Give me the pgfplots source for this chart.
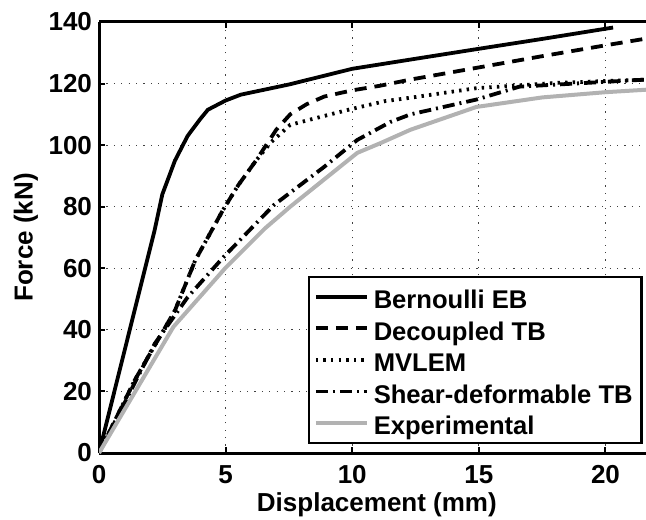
\documentclass[border=0pt]{standalone}
\usepackage{fontspec}
\setmainfont{Liberation Sans}
\usepackage{pgfplots}
\pgfplotsset{compat=1.18}
\begin{document}
\begin{tikzpicture}
\begin{axis}[
  scale only axis, width=273.5pt, height=215.5pt,
  xmin=0, xmax=21.6, ymin=0, ymax=140,
  xtick={0,5,10,15,20}, ytick={0,20,40,60,80,100,120,140},
  axis x line*=box, axis y line*=left,
  axis line style={line width=1.5pt},
  tick align=inside, major tick length=3pt,
  every tick/.style={black, line width=1pt},
  grid=major,
  major grid style={black!75, line width=0.6pt, dash pattern=on 0.6pt off 3.1pt},
  /pgf/number format/assume math mode=true,
  tick label style={font=\bfseries\fontsize{13}{15}\selectfont},
  x tick label style={anchor=base, yshift=-15.4pt, inner sep=0pt},
  label style={font=\bfseries\fontsize{13}{15}\selectfont},
  xlabel={Displacement (mm)}, ylabel={Force (kN)},
  xlabel style={at={(axis description cs:0.508,-0.1363)}, anchor=base},
  ylabel style={at={(axis description cs:-0.1214,0.5)}, anchor=base},
  legend cell align=left,
  legend image code/.code={\draw[#1] (0pt,0pt) -- (25.6pt,0pt);},
  legend style={at={(rel axis cs:0.382,0.021)}, anchor=south west,
    draw=black, line width=1.2pt, fill=white,
    inner xsep=2.35pt, inner ysep=1.9pt,
    row sep=0pt, column sep=0.35pt,
    font=\bfseries\fontsize{12.8}{14}\selectfont,
    nodes={inner xsep=2pt, inner ysep=0.5pt, text height=13.3pt, text depth=1.5pt}},
]
\addplot[black, line width=1.9pt] coordinates {
(0,0) (2.2,72.5) (2.5,84) (3.0,95) (3.5,103) (4.0,108.5) (4.3,111.5) (5.0,114.5)
(5.6,116.4) (7.5,119.7) (10,124.8) (12.3,127.8) (15,131.3) (17.5,134.5) (20.3,138.2)};
\addlegendentry{Bernoulli EB}
\addplot[black, line width=1.9pt, dash pattern=on 6pt off 4pt] coordinates {
(0,0) (1.4,23.5) (3.0,46.3) (3.8,62.6) (4.9,79) (5.5,87) (6.2,95) (7.0,105) (7.55,110)
(8.2,113.3) (8.9,115.8) (10,117.8) (11.1,119.3) (12.3,121.3) (14.9,125.1) (17.5,128.9)
(20.2,132.7) (21.6,134.6)};
\addlegendentry{Decoupled TB}
\addplot[black, line width=1.9pt, dash pattern=on 1.2pt off 2.6pt] coordinates {
(0,0) (1.4,23.5) (3.0,46.3) (3.8,62.6) (4.9,79) (5.5,87) (6.2,95) (6.8,101) (7.55,106.6)
(8.9,109.5) (10,111.8) (11.3,114.3) (12.3,115.4) (14.9,118.5) (18,120.2) (21.6,121.3)};
\addlegendentry{MVLEM}
\addplot[black, line width=1.9pt, dash pattern=on 6pt off 2.5pt on 1pt off 2.5pt] coordinates {
(0,0) (2.2,35.5) (3.5,50.6) (4.9,63.5) (6.9,80.5) (8.9,93) (10.2,101.7) (11.5,107.5)
(12.3,110) (14.9,114.8) (16.6,119) (21.6,121.3)};
\addlegendentry{Shear-deformable TB}
\addplot[black!30, line width=2pt] coordinates {
(0,0) (2.94,41) (4.98,60) (6.56,73) (7.55,80) (10.2,97.5) (11.1,100.6) (12.3,105)
(14.9,112.4) (17.5,115.5) (20,117.2) (21.6,118)};
\addlegendentry{Experimental}
\end{axis}
\pgfresetboundingbox
\useasboundingbox ([xshift=-49.5pt,yshift=-33pt]current axis.south west) rectangle ([yshift=11pt]current axis.north east);
\end{tikzpicture}
\end{document}
